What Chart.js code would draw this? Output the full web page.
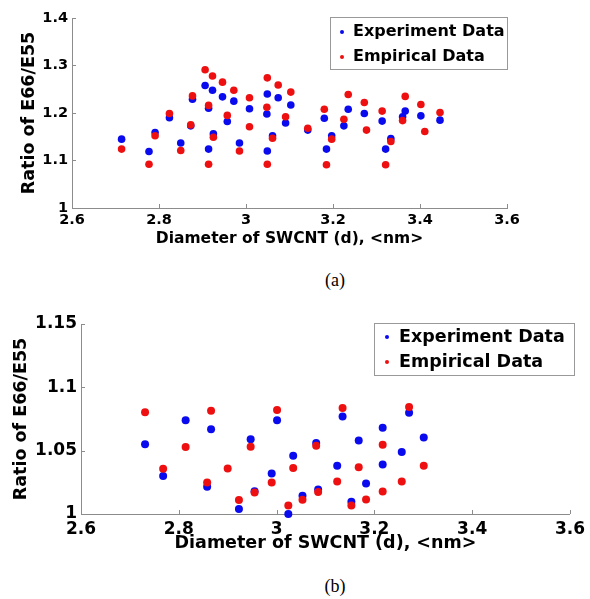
<!DOCTYPE html>
<html>
<head>
<meta charset="utf-8">
<script src="https://cdn.jsdelivr.net/npm/chart.js@4.4.0/dist/chart.umd.min.js"></script>
<style>
  body { margin: 0; background: #fff; }
  #wrap { position: relative; width: 590px; height: 599px; overflow: hidden; }
  .box { position: absolute; left: 0; width: 590px; }
  .cap { position: absolute; width: 590px; left: 0; text-align: center; font-family: "Liberation Serif", serif; font-size: 18px; color: #000; }
</style>
</head>
<body>
<div id="wrap">
  <div class="box" style="top:0;height:255px"><canvas id="chartA"></canvas></div>
  <div class="cap" style="top:270px;left:40px">(a)</div>
  <div class="box" style="top:300px;height:260px"><canvas id="chartB"></canvas></div>
  <div class="cap" style="top:576px;left:40px">(b)</div>
</div>
<script>
// ---- chart (a) ----
var xTicksA = [2.6, 2.8, 3, 3.2, 3.4, 3.6];
var yTicksA = [1, 1.1, 1.2, 1.3, 1.4];
var expDiamA = [2.714, 2.777, 2.791, 2.824, 2.850, 2.873, 2.877, 2.906, 2.914, 2.914, 2.923, 2.925, 2.946, 2.957, 2.972, 2.985, 3.008, 3.048, 3.049, 3.049, 3.061, 3.074, 3.091, 3.103, 3.142, 3.180, 3.185, 3.197, 3.225, 3.235, 3.272, 3.313, 3.321, 3.333, 3.360, 3.366, 3.402, 3.446];
var expRatioA = [1.145, 1.119, 1.159, 1.190, 1.137, 1.173, 1.229, 1.258, 1.124, 1.210, 1.248, 1.156, 1.234, 1.182, 1.225, 1.137, 1.209, 1.198, 1.240, 1.120, 1.152, 1.232, 1.179, 1.217, 1.164, 1.189, 1.124, 1.152, 1.173, 1.208, 1.199, 1.183, 1.124, 1.146, 1.192, 1.204, 1.194, 1.185];
var empDiamA = [2.714, 2.777, 2.791, 2.824, 2.850, 2.873, 2.877, 2.906, 2.914, 2.914, 2.923, 2.925, 2.946, 2.957, 2.972, 2.985, 3.008, 3.008, 3.048, 3.049, 3.049, 3.061, 3.074, 3.091, 3.103, 3.142, 3.180, 3.185, 3.197, 3.225, 3.235, 3.272, 3.277, 3.313, 3.321, 3.333, 3.360, 3.366, 3.402, 3.411, 3.446];
var empRatioA = [1.124, 1.092, 1.152, 1.199, 1.121, 1.175, 1.236, 1.291, 1.092, 1.216, 1.278, 1.149, 1.265, 1.195, 1.248, 1.120, 1.232, 1.171, 1.212, 1.274, 1.092, 1.147, 1.259, 1.192, 1.244, 1.168, 1.208, 1.091, 1.145, 1.187, 1.239, 1.222, 1.164, 1.204, 1.091, 1.140, 1.184, 1.235, 1.218, 1.161, 1.201];

// ---- chart (b) ----
var xTicksB = [2.6, 2.8, 3, 3.2, 3.4, 3.6];
var yTicksB = [1, 1.05, 1.1, 1.15];
var expDiamB = [2.731, 2.768, 2.814, 2.858, 2.866, 2.923, 2.947, 2.955, 2.990, 3.001, 3.024, 3.034, 3.053, 3.081, 3.085, 3.124, 3.135, 3.153, 3.168, 3.183, 3.217, 3.217, 3.256, 3.271, 3.301];
var expRatioB = [1.055, 1.030, 1.074, 1.0215, 1.067, 1.004, 1.059, 1.018, 1.032, 1.074, 1.000, 1.046, 1.0144, 1.056, 1.0194, 1.038, 1.077, 1.0097, 1.058, 1.024, 1.068, 1.039, 1.049, 1.080, 1.0604];
var empDiamB = [2.731, 2.768, 2.814, 2.858, 2.866, 2.900, 2.923, 2.947, 2.955, 2.990, 3.001, 3.024, 3.034, 3.053, 3.081, 3.085, 3.124, 3.135, 3.153, 3.168, 3.183, 3.217, 3.217, 3.256, 3.271, 3.301];
var empRatioB = [1.0804, 1.0357, 1.0528, 1.0249, 1.0815, 1.036, 1.011, 1.053, 1.017, 1.0249, 1.0822, 1.0068, 1.0363, 1.0113, 1.0539, 1.0173, 1.0257, 1.0836, 1.0068, 1.037, 1.0115, 1.0547, 1.0178, 1.0257, 1.0844, 1.038];

var seriesNames = ['Experiment Data', 'Empirical Data'];
var BLUE = '#0a0aee';
var RED = '#ee1010';
var AXIS = '#8c8c8c';
var FONT = "'DejaVu Sans', sans-serif";

function toPoints(xs, ys) {
    return xs.map(function(x, i) { return {x: x, y: ys[i]}; });
}

// plain number labels: 1, 1.1, 1.05 ...
function plainLabel(v) {
    return String(Math.round(v * 1000) / 1000);
}

// small ticks pointing into the plot, like the original axes
var innerTicks = {
    id: 'innerTicks',
    afterDraw: function(chart) {
        var ctx = chart.ctx, a = chart.chartArea;
        var xs = chart.scales.x, ys = chart.scales.y;
        ctx.save();
        ctx.strokeStyle = AXIS;
        ctx.lineWidth = 1;
        ctx.beginPath();
        xs.ticks.forEach(function(t) {
            var px = Math.round(xs.getPixelForValue(t.value)) + 0.5;
            ctx.moveTo(px, a.bottom);
            ctx.lineTo(px, a.bottom - 4);
        });
        ys.ticks.forEach(function(t) {
            var py = Math.round(ys.getPixelForValue(t.value)) + 0.5;
            ctx.moveTo(a.left, py);
            ctx.lineTo(a.left + 4, py);
        });
        ctx.stroke();
        ctx.restore();
    }
};

// boxed legend sitting inside the plot
var boxLegend = {
    id: 'boxLegend',
    afterDraw: function(chart, args, o) {
        var ctx = chart.ctx;
        ctx.save();
        ctx.fillStyle = '#fff';
        ctx.fillRect(o.x, o.y, o.w, o.h);
        ctx.strokeStyle = '#999';
        ctx.lineWidth = 1;
        ctx.strokeRect(o.x + 0.5, o.y + 0.5, o.w, o.h);
        ctx.font = 'bold ' + o.size + 'px ' + FONT;
        ctx.textBaseline = 'middle';
        ctx.textAlign = 'left';
        seriesNames.forEach(function(name, i) {
            var cy = o.y + o.rows[i];
            ctx.fillStyle = i === 0 ? BLUE : RED;
            ctx.beginPath();
            ctx.arc(o.dotX, cy, 2, 0, Math.PI * 2);
            ctx.fill();
            ctx.fillStyle = '#000';
            ctx.fillText(name, o.textX, cy);
        });
        ctx.restore();
    }
};

function makeChart(id, cfg) {
    var ctx = document.getElementById(id);
    return new Chart(ctx, {
        type: 'scatter',
        data: {
            datasets: [
                {
                    label: seriesNames[0],
                    data: toPoints(cfg.expX, cfg.expY),
                    backgroundColor: BLUE,
                    pointRadius: cfg.r,
                    pointBorderWidth: 0,
                    clip: false,
                    order: 1
                },
                {
                    label: seriesNames[1],
                    data: toPoints(cfg.empX, cfg.empY),
                    backgroundColor: RED,
                    pointRadius: cfg.r,
                    pointBorderWidth: 0,
                    clip: false,
                    order: 0
                }
            ]
        },
        options: {
            responsive: true,
            maintainAspectRatio: false,
            animation: false,
            events: [],
            layout: { padding: { top: cfg.padTop, right: cfg.padRight, left: 0, bottom: 0 } },
            plugins: {
                legend: { display: false },
                tooltip: { enabled: false },
                boxLegend: cfg.legend
            },
            scales: {
                x: {
                    type: 'linear',
                    min: cfg.xTicks[0],
                    max: cfg.xTicks[cfg.xTicks.length - 1],
                    afterBuildTicks: function(s) { s.ticks = cfg.xTicks.map(function(v) { return {value: v}; }); },
                    afterFit: function(s) { s.height = cfg.xH; },
                    grid: { display: false, drawTicks: false, tickLength: 0 },
                    border: { color: AXIS, width: 1 },
                    ticks: {
                        color: '#000',
                        font: { family: FONT, weight: 'bold', size: cfg.tickSize },
                        padding: cfg.xTickPad,
                        autoSkip: false,
                        maxRotation: 0,
                        callback: plainLabel
                    },
                    title: {
                        display: true,
                        text: 'Diameter of SWCNT (d), <nm>',
                        color: '#000',
                        font: { family: FONT, weight: 'bold', size: cfg.xTitleSize },
                        padding: { top: 0, bottom: cfg.xTitlePad }
                    }
                },
                y: {
                    type: 'linear',
                    min: cfg.yTicks[0],
                    max: cfg.yTicks[cfg.yTicks.length - 1],
                    afterBuildTicks: function(s) { s.ticks = cfg.yTicks.map(function(v) { return {value: v}; }); },
                    afterFit: function(s) { s.width = cfg.yW; },
                    grid: { display: false, drawTicks: false, tickLength: 0 },
                    border: { color: AXIS, width: 1 },
                    ticks: {
                        color: '#000',
                        font: { family: FONT, weight: 'bold', size: cfg.tickSize },
                        padding: 4,
                        callback: plainLabel
                    },
                    title: {
                        display: true,
                        text: 'Ratio of E66/E55',
                        color: '#000',
                        font: { family: FONT, weight: 'bold', size: 17.5 },
                        padding: { top: cfg.yTitlePad, bottom: 0 }
                    }
                }
            }
        },
        plugins: [innerTicks, boxLegend]
    });
}

makeChart('chartA', {
    expX: expDiamA, expY: expRatioA, empX: empDiamA, empY: empRatioA,
    xTicks: xTicksA, yTicks: yTicksA,
    r: 3.8, padTop: 18, padRight: 83, xH: 47, yW: 72,
    tickSize: 14.5, xTickPad: 4, xTitleSize: 15.5, xTitlePad: 7, yTitlePad: 19,
    legend: { x: 330, y: 17, w: 177, h: 52, dotX: 342, textX: 353, rows: [15, 40], size: 16 }
});

makeChart('chartB', {
    expX: expDiamB, expY: expRatioB, empX: empDiamB, empY: empRatioB,
    xTicks: xTicksB, yTicks: yTicksB,
    r: 4, padTop: 24, padRight: 18, xH: 46, yW: 81,
    tickSize: 17, xTickPad: 5, xTitleSize: 17.5, xTitlePad: 6, yTitlePad: 11,
    legend: { x: 374, y: 23, w: 200, h: 52, dotX: 387, textX: 399, rows: [14, 39], size: 17.5 }
});
</script>
</body>
</html>
